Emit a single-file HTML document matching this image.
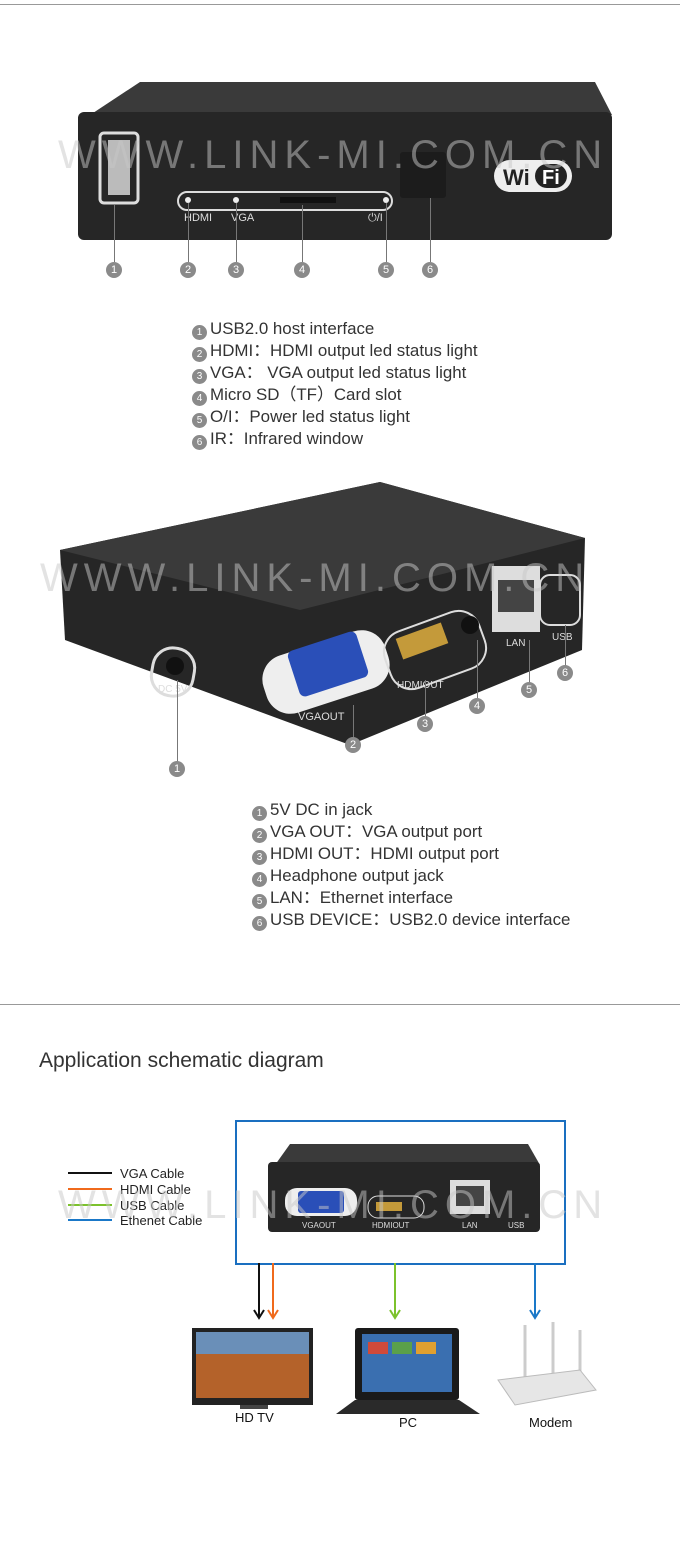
<!DOCTYPE html>
<html><head><meta charset="utf-8"><style>
body{margin:0;width:680px;height:1542px;background:#fff;position:relative;font-family:"Liberation Sans","Noto Sans CJK SC",sans-serif;overflow:hidden}
.a{position:absolute}
.n{position:absolute;width:16px;height:16px;border-radius:50%;background:#8a8a8a;color:#fff;font-size:11px;line-height:16px;text-align:center}
.list{position:absolute;font-size:16.9px;color:#333;line-height:21.8px}
.list span{display:inline-block;width:15px;height:15px;border-radius:50%;background:#8a8a8a;color:#fff;font-size:10px;line-height:15px;text-align:center;margin-right:3px;vertical-align:-1px}
.wm{position:absolute;color:rgba(200,200,200,.5);font-size:40px;letter-spacing:6px;white-space:nowrap}
.vl{position:absolute;width:1px;background:#777}
</style></head><body>
<div class="a" style="left:0;top:4px;width:680px;height:1px;background:#999"></div>

<svg class="a" style="left:0;top:0" width="680" height="300">
<polygon points="90,115 140,82 595,82 612,115" fill="#3a3a3a"/>
<rect x="78" y="112" width="534" height="128" rx="6" fill="#262626"/>
<rect x="100" y="133" width="38" height="70" rx="4" fill="none" stroke="#ddd" stroke-width="3"/>
<rect x="108" y="140" width="22" height="55" fill="#bbb"/>
<rect x="178" y="192" width="214" height="18" rx="9" fill="none" stroke="#ddd" stroke-width="2"/>
<rect x="280" y="197" width="56" height="6" fill="#111"/>
<circle cx="188" cy="200" r="3" fill="#eee"/><circle cx="236" cy="200" r="3" fill="#eee"/><circle cx="386" cy="200" r="3" fill="#eee"/>
<text x="184" y="221" fill="#ddd" font-size="11" font-family="Liberation Sans">HDMI</text>
<text x="231" y="221" fill="#ddd" font-size="11" font-family="Liberation Sans">VGA</text>
<text x="368" y="221" fill="#ddd" font-size="11" font-family="Liberation Sans">⏻/I</text>
<rect x="400" y="152" width="46" height="46" rx="3" fill="#1c1c1c"/>
<rect x="494" y="160" width="78" height="32" rx="16" fill="#eee"/>
<text x="503" y="185" fill="#222" font-size="22" font-weight="bold" font-family="Liberation Sans">Wi</text>
<rect x="535" y="164" width="32" height="24" rx="12" fill="#222"/>
<text x="542" y="184" fill="#fff" font-size="20" font-weight="bold" font-family="Liberation Sans">Fi</text>
</svg>
<div class="wm" style="left:58px;top:133px">WWW.LINK-MI.COM.CN</div>
<div class="vl" style="left:114px;top:205px;height:57px"></div>
<div class="vl" style="left:188px;top:203px;height:59px"></div>
<div class="vl" style="left:236px;top:203px;height:59px"></div>
<div class="vl" style="left:302px;top:205px;height:57px"></div>
<div class="vl" style="left:386px;top:203px;height:59px"></div>
<div class="vl" style="left:430px;top:198px;height:64px"></div>
<div class="n" style="left:106px;top:262px">1</div>
<div class="n" style="left:180px;top:262px">2</div>
<div class="n" style="left:228px;top:262px">3</div>
<div class="n" style="left:294px;top:262px">4</div>
<div class="n" style="left:378px;top:262px">5</div>
<div class="n" style="left:422px;top:262px">6</div>
<div class="list" style="left:192px;top:318px">
<div><span>1</span>USB2.0 host interface</div>
<div><span>2</span>HDMI：HDMI output led status light</div>
<div><span>3</span>VGA： VGA output led status light</div>
<div><span>4</span>Micro SD（TF）Card slot</div>
<div><span>5</span>O/I：Power led status light</div>
<div><span>6</span>IR：Infrared window</div>
</div>

<svg class="a" style="left:0;top:470px" width="680" height="300">
<polygon points="60,80 380,12 585,68 582,180 350,275 65,170" fill="#262626"/>
<polygon points="60,80 380,12 585,68 300,140" fill="#3a3a3a"/>
<rect x="152" y="178" width="42" height="48" rx="20" fill="none" stroke="#ddd" stroke-width="3" transform="rotate(10 173 202)"/>
<circle cx="175" cy="196" r="9" fill="#111"/>
<rect x="262" y="172" width="128" height="60" rx="25" fill="#eee" transform="rotate(-18 326 202)"/>
<rect x="292" y="170" width="72" height="48" rx="6" fill="#2a4fb8" transform="rotate(-18 328 194)"/>
<rect x="385" y="150" width="100" height="60" rx="22" fill="none" stroke="#ddd" stroke-width="2" transform="rotate(-20 435 180)"/>
<rect x="398" y="160" width="48" height="22" fill="#c49a3a" transform="rotate(-20 422 171)"/>
<circle cx="470" cy="155" r="9" fill="#111"/>
<rect x="492" y="96" width="48" height="66" fill="#ddd"/>
<rect x="498" y="110" width="36" height="32" fill="#444"/>
<rect x="540" y="105" width="40" height="50" rx="10" fill="none" stroke="#ddd" stroke-width="2"/>
<text x="298" y="250" fill="#ddd" font-size="11" font-family="Liberation Sans">VGAOUT</text>
<text x="397" y="218" fill="#ddd" font-size="10" font-family="Liberation Sans">HDMIOUT</text>
<text x="506" y="176" fill="#ddd" font-size="10" font-family="Liberation Sans">LAN</text>
<text x="552" y="170" fill="#ddd" font-size="10" font-family="Liberation Sans">USB</text>
<text x="158" y="222" fill="#ddd" font-size="10" font-family="Liberation Sans">DC 5V</text>
</svg>
<div class="wm" style="left:40px;top:556px">WWW.LINK-MI.COM.CN</div>
<div class="vl" style="left:177px;top:680px;height:82px"></div>
<div class="vl" style="left:353px;top:705px;height:33px"></div>
<div class="vl" style="left:425px;top:680px;height:37px"></div>
<div class="vl" style="left:477px;top:640px;height:59px"></div>
<div class="vl" style="left:529px;top:640px;height:43px"></div>
<div class="vl" style="left:565px;top:625px;height:41px"></div>
<div class="n" style="left:169px;top:761px">1</div>
<div class="n" style="left:345px;top:737px">2</div>
<div class="n" style="left:417px;top:716px">3</div>
<div class="n" style="left:469px;top:698px">4</div>
<div class="n" style="left:521px;top:682px">5</div>
<div class="n" style="left:557px;top:665px">6</div>
<div class="list" style="left:252px;top:799px">
<div><span>1</span>5V DC in jack</div>
<div><span>2</span>VGA OUT：VGA output port</div>
<div><span>3</span>HDMI OUT：HDMI output port</div>
<div><span>4</span>Headphone output jack</div>
<div><span>5</span>LAN：Ethernet interface</div>
<div><span>6</span>USB DEVICE：USB2.0 device interface</div>
</div>

<div class="a" style="left:0;top:1004px;width:680px;height:1px;background:#999"></div>
<div class="a" style="left:39px;top:1049px;font-size:21px;color:#333">Application schematic diagram</div>

<div class="a" style="left:235px;top:1120px;width:327px;height:141px;border:2px solid #1a6fc0"></div>
<svg class="a" style="left:0;top:1100px" width="680" height="340">
<polygon points="275,65 290,44 528,44 540,65" fill="#3a3a3a"/>
<rect x="268" y="62" width="272" height="70" rx="4" fill="#262626"/>
<rect x="285" y="88" width="72" height="28" rx="12" fill="#eee"/>
<rect x="298" y="91" width="46" height="22" rx="3" fill="#2a4fb8"/>
<rect x="368" y="96" width="56" height="22" rx="10" fill="none" stroke="#ddd"/>
<rect x="376" y="102" width="26" height="9" fill="#c49a3a"/>
<rect x="450" y="80" width="40" height="34" fill="#ddd"/>
<rect x="456" y="86" width="28" height="20" fill="#444"/>
<text x="302" y="128" fill="#ddd" font-size="8" font-family="Liberation Sans">VGAOUT</text>
<text x="372" y="128" fill="#ddd" font-size="8" font-family="Liberation Sans">HDMIOUT</text>
<text x="462" y="128" fill="#ddd" font-size="8" font-family="Liberation Sans">LAN</text>
<text x="508" y="128" fill="#ddd" font-size="8" font-family="Liberation Sans">USB</text>
<line x1="68" y1="73" x2="112" y2="73" stroke="#111" stroke-width="2"/>
<line x1="68" y1="89" x2="112" y2="89" stroke="#f06a1c" stroke-width="2"/>
<line x1="68" y1="105" x2="112" y2="105" stroke="#7cc22c" stroke-width="2"/>
<line x1="68" y1="120" x2="112" y2="120" stroke="#1a78c8" stroke-width="2"/>
<text x="120" y="78" font-size="13" fill="#222" font-family="Liberation Sans">VGA Cable</text>
<text x="120" y="94" font-size="13" fill="#222" font-family="Liberation Sans">HDMI Cable</text>
<text x="120" y="110" font-size="13" fill="#222" font-family="Liberation Sans">USB Cable</text>
<text x="120" y="125" font-size="13" fill="#222" font-family="Liberation Sans">Ethenet Cable</text>
<g stroke-width="2" fill="none">
<path d="M259 163 V216" stroke="#111"/><path d="M254 210 l5 8 l5 -8" stroke="#111"/>
<path d="M273 163 V216" stroke="#f06a1c"/><path d="M268 210 l5 8 l5 -8" stroke="#f06a1c"/>
<path d="M395 163 V216" stroke="#7cc22c"/><path d="M390 210 l5 8 l5 -8" stroke="#7cc22c"/>
<path d="M535 163 V216" stroke="#1a78c8"/><path d="M530 210 l5 8 l5 -8" stroke="#1a78c8"/>
</g>
<rect x="192" y="228" width="121" height="77" fill="#222"/>
<rect x="196" y="232" width="113" height="66" fill="#b4622a"/>
<rect x="196" y="232" width="113" height="22" fill="#6a8fb8"/>
<rect x="240" y="305" width="28" height="4" fill="#444"/>
<text x="235" y="322" font-size="13" fill="#111" font-family="Liberation Sans">HD TV</text>
<rect x="355" y="228" width="104" height="72" rx="3" fill="#1a1a1a"/>
<rect x="362" y="234" width="90" height="58" fill="#3a6fb0"/>
<rect x="368" y="242" width="20" height="12" fill="#d04a3a"/><rect x="392" y="242" width="20" height="12" fill="#5aa04a"/><rect x="416" y="242" width="20" height="12" fill="#e0a030"/>
<polygon points="355,300 459,300 480,314 336,314" fill="#2a2a2a"/>
<text x="399" y="327" font-size="13" fill="#111" font-family="Liberation Sans">PC</text>
<line x1="525" y1="225" x2="525" y2="280" stroke="#ccc" stroke-width="3"/>
<line x1="553" y1="222" x2="553" y2="275" stroke="#ccc" stroke-width="3"/>
<line x1="580" y1="230" x2="580" y2="280" stroke="#ccc" stroke-width="3"/>
<polygon points="498,280 580,270 596,290 515,305" fill="#e6e6e6" stroke="#bbb"/>
<text x="529" y="327" font-size="13" fill="#111" font-family="Liberation Sans">Modem</text>
</svg>
<div class="wm" style="left:58px;top:1183px">WWW.LINK-MI.COM.CN</div>
</body></html>
